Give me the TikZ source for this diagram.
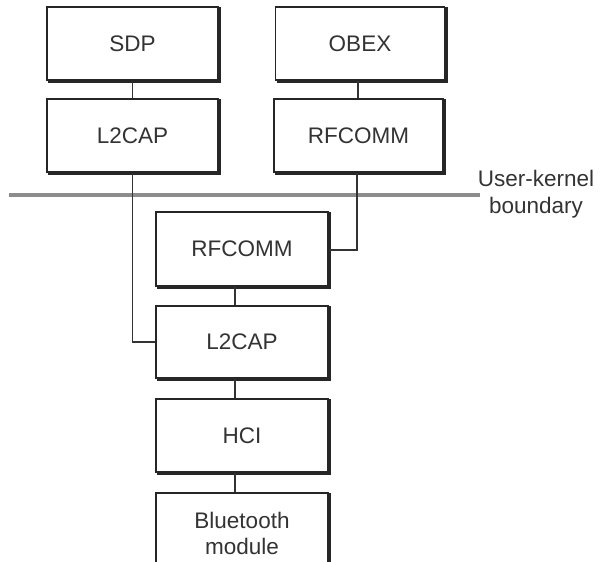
\documentclass[tikz,border=0pt]{standalone}
\usepackage{fontspec}
\setmainfont{Liberation Sans}
\usetikzlibrary{calc}
\tikzset{
  layer/.style={draw=black!85, line width=1.5pt, fill=white, minimum width=171pt, minimum height=73pt,
    inner sep=0pt, align=center, text=black!80, font=\fontsize{22.5}{26}\selectfont},
  link/.style={draw=black!80, line width=1.8pt},
  boundary/.style={draw=black!45, line width=3.5pt},
  shade/.style={draw=black!85, line width=2.2pt}
}
\newcommand{\shadowbox}[1]{%
  \draw[shade] ([xshift=1.2pt,yshift=-1.2pt]#1.north east) -- ([xshift=1.2pt,yshift=-1.2pt]#1.south east) -- ([xshift=2pt,yshift=-1.2pt]#1.south west);}
\begin{document}
\begin{tikzpicture}[x=1pt,y=-1pt]
\useasboundingbox (0,0) rectangle (600,562);
\clip (0,0) rectangle (600,562);
\draw[boundary] (9,195) coordinate (b1) -- (480,195) coordinate (b2);
\node[layer] (sdp) at (132.5,43.5) {SDP};
\node[layer] (l2t) at (132.5,135.5) {L2CAP};
\node[layer, minimum width=169pt] (obex) at (360,43.5) {OBEX};
\node[layer, minimum width=169pt] (rft) at (358.5,135.5) {RFCOMM};
\node[layer, minimum width=172pt, minimum height=74pt] (rfb) at (242,249) {RFCOMM};
\node[layer, minimum width=172pt, minimum height=72pt] (l2b) at (242,342) {L2CAP};
\node[layer, minimum width=172pt, minimum height=73pt] (hci) at (242,435.5) {HCI};
\node[layer, minimum width=172pt, minimum height=80pt] (bt) at (242,533) {Bluetooth\\module};
\foreach \n in {sdp,l2t,obex,rft,rfb,l2b,hci,bt} {\shadowbox{\n}}
\node[anchor=center, align=center, text=black!80, font=\fontsize{22.5}{27}\selectfont] (lbl) at (536,194) {User-kernel\\boundary};
\draw[link] (sdp.south) -- (l2t.north);
\draw[link] ([xshift=-2pt]obex.south) -- ([xshift=-0.5pt]rft.north);
\draw[link] ([xshift=-1.5pt]rft.south) |- ([yshift=-1pt]rfb.east);
\draw[link] (l2t.south) |- (l2b.west);
\draw[link] ([xshift=-7pt]rfb.south) -- ([xshift=-7pt]l2b.north);
\draw[link] ([xshift=-7pt]l2b.south) -- ([xshift=-7pt]hci.north);
\draw[link] ([xshift=-7pt]hci.south) -- ([xshift=-7pt]bt.north);
\end{tikzpicture}
\end{document}
